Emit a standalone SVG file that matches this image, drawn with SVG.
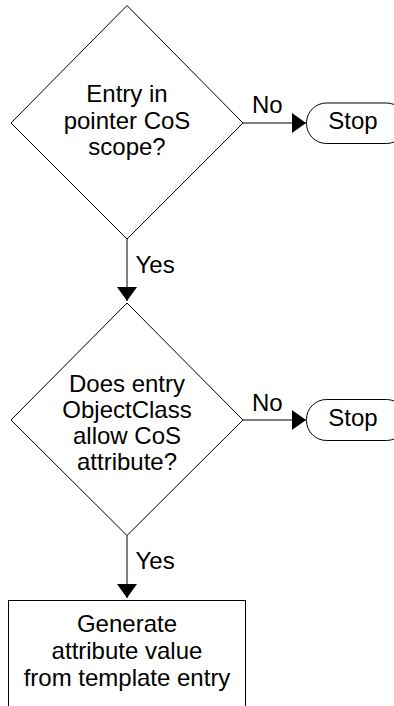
<svg xmlns="http://www.w3.org/2000/svg" width="394" height="706" viewBox="0 0 394 706">
  <style>
    .shape { fill: #fff; stroke: #000; stroke-width: 1; }
    .line { fill: none; stroke: #000; stroke-width: 1; }
    text { font-family: "Liberation Sans", Arial, sans-serif; font-size: 24px; fill: #000; }
    .c { text-anchor: middle; }
  </style>
  <defs>
    <marker id="arrow" viewBox="0 0 14 20" refX="14" refY="10" markerWidth="14" markerHeight="20" markerUnits="userSpaceOnUse" orient="auto">
      <path d="M0,0 L14,10 L0,20 Z" fill="#000"/>
    </marker>
  </defs>

  <!-- connectors -->
  <g id="connectors">
    <line class="line" x1="243" y1="123" x2="306" y2="123" marker-end="url(#arrow)"/>
    <text x="252" y="113">No</text>
    <line class="line" x1="127" y1="239" x2="127" y2="301" marker-end="url(#arrow)"/>
    <text x="135.5" y="273">Yes</text>
    <line class="line" x1="243" y1="420" x2="306" y2="420" marker-end="url(#arrow)"/>
    <text x="252" y="410.5">No</text>
    <line class="line" x1="127" y1="535.5" x2="127" y2="598" marker-end="url(#arrow)"/>
    <text x="135.5" y="569">Yes</text>
  </g>

  <!-- decision: pointer CoS scope -->
  <g id="decision-scope">
    <polygon class="shape" points="127,5.5 243,123 127,239 11,123"/>
    <text class="c" x="127" y="102">Entry in</text>
    <text class="c" x="127" y="128.5">pointer CoS</text>
    <text class="c" x="127" y="155">scope?</text>
  </g>

  <!-- terminator: stop (scope) -->
  <g id="stop-1">
    <rect class="shape" x="306.5" y="103" width="100" height="40.5" rx="20" ry="20"/>
    <text class="c" x="353" y="128.5">Stop</text>
  </g>

  <!-- decision: objectclass allows attribute -->
  <g id="decision-objectclass">
    <polygon class="shape" points="127,303 243,420 127,535.5 11,420"/>
    <text class="c" x="127" y="392">Does entry</text>
    <text class="c" x="127" y="418">ObjectClass</text>
    <text class="c" x="127" y="444">allow CoS</text>
    <text class="c" x="127" y="470">attribute?</text>
  </g>

  <!-- terminator: stop (objectclass) -->
  <g id="stop-2">
    <rect class="shape" x="306.5" y="399.5" width="100" height="41" rx="20" ry="20"/>
    <text class="c" x="353" y="425.5">Stop</text>
  </g>

  <!-- process: generate value -->
  <g id="generate-value">
    <rect class="shape" x="8.5" y="600.5" width="237" height="130"/>
    <text class="c" x="127" y="632">Generate</text>
    <text class="c" x="127" y="659">attribute value</text>
    <text class="c" x="127" y="685.5">from template entry</text>
  </g>
</svg>
